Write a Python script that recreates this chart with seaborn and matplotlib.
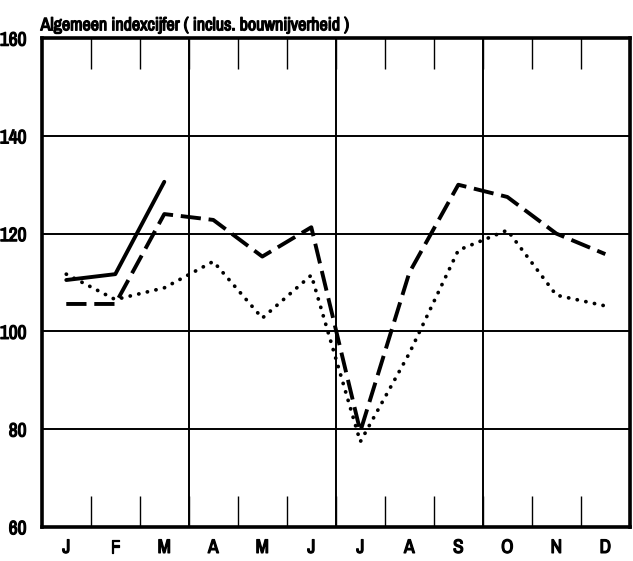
import matplotlib
matplotlib.use("Agg")
import matplotlib.pyplot as plt
from matplotlib import font_manager
import matplotlib.patheffects as pe
import seaborn as sns
import pandas as pd
import numpy as np

months = ["J", "F", "M", "A", "M", "J", "J", "A", "S", "O", "N", "D"]
solid_vals = [110.5, 111.7, 130.6]
dashed_vals = [105.6, 105.6, 124.0, 122.8, 115.3, 121.3, 79.5, 112.0, 130.0, 127.5, 120.0, 115.8]
dotted_vals = [111.7, 106.5, 108.9, 114.3, 102.7, 111.5, 77.4, 95.5, 116.6, 120.7, 107.4, 105.2]
yticks = [60, 80, 100, 120, 140, 160]
title = "Algemeen indexcijfer ( inclus. bouwnijverheid )"

sns.set_theme(style="white")

narrow = None
for f in font_manager.fontManager.ttflist:
    n = f.name
    if ("Narrow" in n or "Condensed" in n) and "Mono" not in n and "Serif" not in n:
        narrow = n
        break
fam = [narrow, 'Liberation Sans', 'DejaVu Sans'] if narrow else ['Liberation Sans', 'DejaVu Sans']
plt.rcParams['font.family'] = fam
big = 13 if narrow else 11.5
bold_fx = [pe.withStroke(linewidth=0.9, foreground="black")]

fig = plt.figure(figsize=(6.33, 5.61), dpi=100)
ax = fig.add_axes([0.066, 0.061, 0.929, 0.871])

def frame(vals):
    return pd.DataFrame({"x": np.arange(len(vals)) + 0.5, "y": vals})

sns.lineplot(data=frame(solid_vals), x="x", y="y", ax=ax, color="black",
             linewidth=2.8, solid_capstyle="round")
sns.lineplot(data=frame(dashed_vals), x="x", y="y", ax=ax, color="black",
             linewidth=2.8, linestyle=(0, (5.2, 2.0)), dash_capstyle="butt")
sns.lineplot(data=frame(dotted_vals), x="x", y="y", ax=ax, color="black",
             linewidth=2.7, linestyle=(0, (0.05, 2.3)), dash_capstyle="round")

ax.set_xlim(0, 12)
ax.set_ylim(60, 160)

for y in [80, 100, 120, 140]:
    ax.axhline(y, color="black", linewidth=1.4, zorder=0)
for x in [3, 6, 9]:
    ax.axvline(x, color="black", linewidth=1.4, zorder=0)

ax.set_xticks(np.arange(12) + 0.5)
ax.set_xticklabels(months, fontsize=big + 1, fontweight="bold")
ax.set_xticks(np.arange(1, 12), minor=True)
ax.tick_params(axis="x", which="major", length=0, pad=8, colors="black")
ax.tick_params(axis="x", which="minor", length=22, width=1.0, direction="in",
               top=True, bottom=True, color="black")
ax.set_yticks(yticks)
ax.set_yticklabels([str(v) for v in yticks], fontsize=big + 1, fontweight="bold")
ax.tick_params(axis="y", which="major", length=0, pad=11, colors="black")
for lab in ax.get_xticklabels() + ax.get_yticklabels():
    lab.set_path_effects(bold_fx)

for s in ax.spines.values():
    s.set_visible(True)
    s.set_color("black")
    s.set_linewidth(2.6)

ax.set_xlabel("")
ax.set_ylabel("")
fig.text(0.064, 0.946, title, fontsize=big, fontweight="bold", ha="left",
         va="baseline", color="black", path_effects=bold_fx)

fig.savefig("out.png", dpi=100, facecolor="white")
